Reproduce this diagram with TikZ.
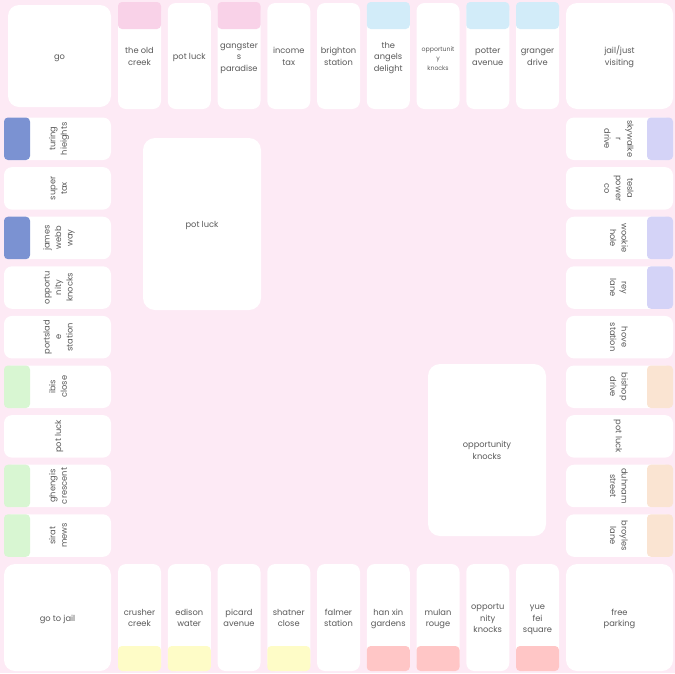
\documentclass[tikz,border=0pt]{standalone}
\usepackage{fontspec}
\setmainfont{Poppins}
\definecolor{bgpink}{HTML}{FDEAF5}
\definecolor{txt}{HTML}{5A5A5A}
\definecolor{pinkbar}{HTML}{F9D2E8}
\definecolor{ltblue}{HTML}{D2ECF9}
\definecolor{dkblue}{HTML}{7B92D2}
\definecolor{lavender}{HTML}{D4D3F7}
\definecolor{greenbar}{HTML}{D8F6D2}
\definecolor{peach}{HTML}{FAE4D2}
\definecolor{yellowbar}{HTML}{FEFCC7}
\definecolor{salmon}{HTML}{FFC6C6}
\newcommand{\tilefont}{\fontsize{8.3}{11.5}\selectfont}
\newcommand{\smallfont}{\fontsize{6.2}{9.5}\selectfont}
\newcommand{\tl}[1]{\raisebox{-1.3pt}[\height][\depth]{\begin{tabular}{@{}c@{}}#1\end{tabular}}}
\tikzset{
  tile/.style={fill=white, draw=none, rounded corners=8pt, inner sep=0pt, font=\tilefont, text=txt, align=center},
  htile/.style={tile, minimum width=43pt, minimum height=106pt},
  vtile/.style={tile, minimum width=42.5pt, minimum height=107pt},
  corner/.style={tile, rounded corners=11pt},
  card/.style={tile, rounded corners=12pt, minimum width=118pt, minimum height=172pt},
  bar/.style={draw=none, rounded corners=4pt, inner sep=0pt},
  hbar/.style={bar, minimum width=43pt},
  vbar/.style={bar, minimum width=26pt, minimum height=42.5pt}
}
\begin{document}
\begin{tikzpicture}[x=1pt, y=-1pt]
\useasboundingbox (0,0) rectangle (675,673);
\fill[bgpink] (0,0) rectangle (675,673);

% corners
\node[corner, minimum width=103pt, minimum height=102pt] (go) at (59.5,56) {\tl{go}};
\node[corner, minimum width=107pt, minimum height=106pt] (jail) at (619.5,56) {\tl{jail/just\\visiting}};
\node[corner, minimum width=107pt, minimum height=107pt] (gotojail) at (57.5,617.5) {\tl{go to jail}};
\node[corner, minimum width=107pt, minimum height=107pt] (parking) at (619.5,617.5) {\tl{free\\parking}};

% centre cards
\node[card] (potcard) at (202,224) {\tl{pot luck}};
\node[card] (oppcard) at (487,450) {\tl{opportunity\\knocks}};

% top row
\foreach \k/\t in {0/{the old\\creek}, 1/{pot luck}, 2/{gangster\\s\\paradise}, 3/{income\\tax},
  4/{brighton\\station}, 5/{the\\angels\\delight}, 6/{\smallfont\tl{opportunit\\y\\knocks}},
  7/{potter\\avenue}, 8/{granger\\drive}}{
  \node[htile] (top\k) at ({139.5+49.75*\k},56) {\tl{\t}};
}
\foreach \k/\c in {0/pinkbar, 2/pinkbar, 5/ltblue, 7/ltblue, 8/ltblue}{
  \node[hbar, fill=\c, minimum height=27pt] (topbar\k) at ({139.5+49.75*\k},15.5) {};
}

% bottom row
\foreach \k/\t in {0/{crusher\\creek}, 1/{edison\\water}, 2/{picard\\avenue}, 3/{shatner\\close},
  4/{falmer\\station}, 5/{han xin\\gardens}, 6/{mulan\\rouge}, 7/{opportu\\nity\\knocks},
  8/{yue\\fei\\square}}{
  \node[htile, minimum height=107pt] (bot\k) at ({139.5+49.75*\k},617.5) {\tl{\t}};
}
\foreach \k/\c in {0/yellowbar, 1/yellowbar, 3/yellowbar, 5/salmon, 6/salmon, 8/salmon}{
  \node[hbar, fill=\c, minimum height=25pt] (botbar\k) at ({139.5+49.75*\k},658.5) {};
}

% left column
\foreach \k/\t in {0/{turing\\hieights}, 1/{super\\tax}, 2/{james\\webb\\way}, 3/{opportu\\nity\\knocks},
  4/{portslad\\e\\station}, 5/{ibis\\close}, 6/{pot luck}, 7/{ghengis\\crescent}, 8/{sirat\\mews}}{
  \node[vtile, rotate=90] (left\k) at (57.5,{138.75+49.6*\k}) {\tl{\t}};
}
\foreach \k/\c in {0/dkblue, 2/dkblue, 5/greenbar, 7/greenbar, 8/greenbar}{
  \node[vbar, fill=\c] (leftbar\k) at (17,{138.75+49.6*\k}) {};
}

% right column
\foreach \k/\t in {0/{skywalke\\r\\drive}, 1/{tesla\\power\\co}, 2/{wookie\\hole}, 3/{rey\\lane},
  4/{hove\\station}, 5/{bishop\\drive}, 6/{pot luck}, 7/{duhnam\\street}, 8/{broyles\\lane}}{
  \node[vtile, rotate=-90] (right\k) at (619.5,{138.75+49.6*\k}) {\tl{\t}};
}
\foreach \k/\c in {0/lavender, 2/lavender, 3/lavender, 5/peach, 7/peach, 8/peach}{
  \node[vbar, fill=\c] (rightbar\k) at (660,{138.75+49.6*\k}) {};
}
\end{tikzpicture}
\end{document}
